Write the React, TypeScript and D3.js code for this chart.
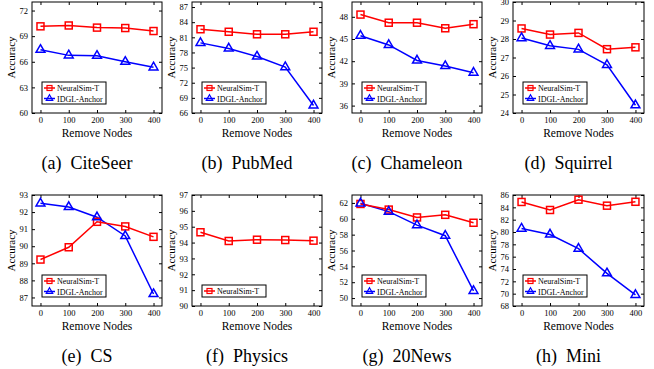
import React, { useEffect, useRef } from "react";
import * as d3 from "d3";

// x values shared by all panels
const removeNodes = [0, 100, 200, 300, 400];

// NeuralSim-T accuracy per dataset
const citeseerNeural = [70.15, 70.25, 70.0, 69.95, 69.6];
const pubmedNeural = [82.6, 82.1, 81.6, 81.6, 82.1];
const chameleonNeural = [48.3, 47.2, 47.2, 46.45, 47.0];
const squirrelNeural = [28.57, 28.24, 28.33, 27.45, 27.55];
const csNeural = [89.22, 89.94, 91.43, 91.16, 90.55];
const physicsNeural = [94.65, 94.1, 94.18, 94.16, 94.12];
const newsNeural = [61.87, 61.16, 60.17, 60.5, 59.5];
const miniNeural = [84.87, 83.57, 85.24, 84.27, 84.9];

// IDGL-Anchor accuracy per dataset (none for Physics)
const citeseerIdgl = [67.4, 66.75, 66.7, 66.0, 65.35];
const pubmedIdgl = [79.9, 78.8, 77.2, 75.1, 67.5];
const chameleonIdgl = [45.45, 44.2, 42.1, 41.35, 40.45];
const squirrelIdgl = [28.05, 27.63, 27.44, 26.6, 24.42];
const csIdgl = [92.51, 92.3, 91.7, 90.6, 87.2];
const newsIdgl = [61.95, 60.9, 59.2, 57.87, 50.9];
const miniIdgl = [80.55, 79.6, 77.3, 73.3, 69.8];

// captions, y domains and y ticks
const captions = ["(a)\u00a0\u00a0CiteSeer", "(b)\u00a0\u00a0PubMed", "(c)\u00a0\u00a0Chameleon", "(d)\u00a0\u00a0Squirrel", "(e)\u00a0\u00a0CS", "(f)\u00a0\u00a0Physics", "(g)\u00a0\u00a020News", "(h)\u00a0\u00a0Mini"];
const yDomains = [[60, 73], [66, 88], [35, 50], [24, 30], [86.5, 93], [90, 97], [49, 63], [68, 86]];
const yTicks = [
  [60, 63, 66, 69, 72],
  [66, 69, 72, 75, 78, 81, 84, 87],
  [36, 39, 42, 45, 48],
  [24, 25, 26, 27, 28, 29, 30],
  [87, 88, 89, 90, 91, 92, 93],
  [90, 91, 92, 93, 94, 95, 96, 97],
  [50, 52, 54, 56, 58, 60, 62],
  [68, 70, 72, 74, 76, 78, 80, 82, 84, 86],
];
const neuralSeries = [citeseerNeural, pubmedNeural, chameleonNeural, squirrelNeural, csNeural, physicsNeural, newsNeural, miniNeural];
const idglSeries = [citeseerIdgl, pubmedIdgl, chameleonIdgl, squirrelIdgl, csIdgl, null, newsIdgl, miniIdgl];

const RED = "#ff0000";
const BLUE = "#0000ff";
const FONT = "Liberation Serif";

const App = () => {
  const ref = useRef<SVGSVGElement>(null);

  useEffect(() => {
    const width = 654;
    const height = 369;
    const colLefts = [32, 192, 352, 513];
    const colWidths = [130, 130, 130, 131];
    const rowTops = [2, 195];
    const boxH = 111;

    const svg = d3
      .select(ref.current)
      .attr("width", width)
      .attr("height", height)
      .attr("viewBox", [0, 0, width, height])
      .style("position", "absolute")
      .style("left", 0)
      .style("top", 0)
      .style("background", "#fff");

    svg.selectAll("*").remove();

    const triangle = d3.symbol().type(d3.symbolTriangle);
    const intFmt = d3.format("d");

    captions.forEach((caption, i) => {
      const col = i % 4;
      const row = Math.floor(i / 4);
      const left = colLefts[col];
      const w = colWidths[col];
      const top = rowTops[row];

      const x = d3.scaleLinear().domain([-30, 430]).range([left, left + w]);
      const y = d3.scaleLinear().domain(yDomains[i]).range([top + boxH, top]);

      const g = svg.append("g").attr("font-family", FONT);

      // y-axis with inward ticks
      g.append("g")
        .attr("transform", `translate(${left},0)`)
        .call(d3.axisLeft(y).tickValues(yTicks[i]).tickFormat(intFmt).tickSize(-3).tickSizeOuter(0).tickPadding(4))
        .attr("font-family", FONT)
        .attr("font-size", 8.5)
        .call((a) => a.select(".domain").remove())
        .call((a) => a.selectAll("text").attr("fill", "#000"));

      // right-side ticks
      g.append("g")
        .attr("transform", `translate(${left + w},0)`)
        .call(d3.axisRight(y).tickValues(yTicks[i]).tickSize(-3).tickSizeOuter(0).tickFormat(() => ""))
        .call((a) => a.select(".domain").remove());

      // x-axis
      g.append("g")
        .attr("transform", `translate(0,${top + boxH})`)
        .call(d3.axisBottom(x).tickValues(removeNodes).tickFormat(intFmt).tickSize(-3).tickSizeOuter(0).tickPadding(4))
        .attr("font-family", FONT)
        .attr("font-size", 8.5)
        .call((a) => a.select(".domain").remove())
        .call((a) => a.selectAll("text").attr("fill", "#000"));

      // top ticks
      g.append("g")
        .attr("transform", `translate(0,${top})`)
        .call(d3.axisTop(x).tickValues(removeNodes).tickSize(-3).tickSizeOuter(0).tickFormat(() => ""))
        .call((a) => a.select(".domain").remove());

      // frame
      g.append("rect")
        .attr("x", left)
        .attr("y", top)
        .attr("width", w)
        .attr("height", boxH)
        .attr("fill", "none")
        .attr("stroke", "#000")
        .attr("stroke-width", 1);

      // axis titles
      g.append("text")
        .attr("transform", `translate(${left - 17},${top + boxH / 2}) rotate(-90)`)
        .attr("text-anchor", "middle")
        .attr("font-size", 11)
        .text("Accuracy");

      g.append("text")
        .attr("x", left + w / 2)
        .attr("y", top + boxH + 24)
        .attr("text-anchor", "middle")
        .attr("font-size", 11.5)
        .text("Remove Nodes");

      g.append("text")
        .attr("x", left + w / 2 - 10)
        .attr("y", top + boxH + 56)
        .attr("text-anchor", "middle")
        .attr("font-size", 18)
        .text(caption);

      const line = d3
        .line<number>()
        .x((_, j) => x(removeNodes[j]))
        .y((d) => y(d));

      const idgl = idglSeries[i];
      if (idgl) {
        g.append("path")
          .datum(idgl)
          .attr("fill", "none")
          .attr("stroke", BLUE)
          .attr("stroke-width", 1.5)
          .attr("d", line);
      }

      g.append("path")
        .datum(neuralSeries[i])
        .attr("fill", "none")
        .attr("stroke", RED)
        .attr("stroke-width", 1.5)
        .attr("d", line);

      g.selectAll(".sq")
        .data(neuralSeries[i])
        .join("rect")
        .attr("x", (_, j) => x(removeNodes[j]) - 3.5)
        .attr("y", (d) => y(d) - 3.5)
        .attr("width", 7)
        .attr("height", 7)
        .attr("fill", "none")
        .attr("stroke", RED)
        .attr("stroke-width", 1.5);

      if (idgl) {
        g.selectAll(".tri")
          .data(idgl)
          .join("path")
          .attr("transform", (d, j) => `translate(${x(removeNodes[j])},${y(d)})`)
          .attr("d", triangle.size(34)())
          .attr("fill", "none")
          .attr("stroke", BLUE)
          .attr("stroke-width", 1.5);
      }

      // legend
      const entries = idgl ? [["NeuralSim-T", RED], ["IDGL-Anchor", BLUE]] : [["NeuralSim-T", RED]];
      const lx = left + 10;
      const lh = idgl ? 22 : 12;
      const ly = top + boxH - 9 - lh;
      g.append("rect")
        .attr("x", lx)
        .attr("y", ly)
        .attr("width", 64)
        .attr("height", lh)
        .attr("fill", "#fff")
        .attr("stroke", "#000")
        .attr("stroke-width", 1);

      entries.forEach(([name, color], k) => {
        const cy = ly + 6 + k * 10.5;
        g.append("line")
          .attr("x1", lx + 2)
          .attr("x2", lx + 13)
          .attr("y1", cy)
          .attr("y2", cy)
          .attr("stroke", color)
          .attr("stroke-width", 1.5);
        if (k === 0) {
          g.append("rect")
            .attr("x", lx + 5)
            .attr("y", cy - 2.5)
            .attr("width", 5)
            .attr("height", 5)
            .attr("fill", "none")
            .attr("stroke", color)
            .attr("stroke-width", 1.2);
        } else {
          g.append("path")
            .attr("transform", `translate(${lx + 7.5},${cy})`)
            .attr("d", triangle.size(18)())
            .attr("fill", "none")
            .attr("stroke", color)
            .attr("stroke-width", 1.2);
        }
        g.append("text")
          .attr("x", lx + 15)
          .attr("y", cy + 3)
          .attr("font-size", 8)
          .text(name);
      });
    });
  }, []);

  return <svg ref={ref}></svg>;
};

export default App;
